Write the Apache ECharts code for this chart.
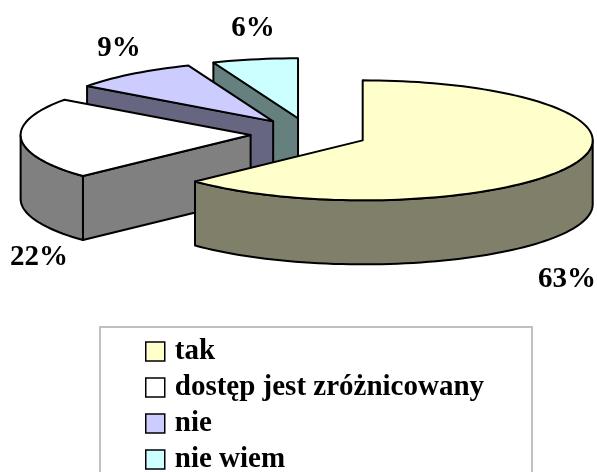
<!DOCTYPE html>
<html>
<head>
<meta charset="utf-8">
<style>
  html, body { margin: 0; padding: 0; background: #fff; overflow: hidden; }
  #chart { width: 597px; height: 472px; }
</style>
<script src="https://cdn.jsdelivr.net/npm/echarts@6/dist/echarts.min.js"></script>
</head>
<body>
<div id="chart"></div>
<script>
var categories = ["tak", "dostęp jest zróżnicowany", "nie", "nie wiem"];
var values = [63, 22, 9, 6];
var topColors = ["#FFFFCC", "#FFFFFF", "#CCCCFF", "#CCFFFF"];
var sideColors = ["#80806A", "#808080", "#666680", "#668080"];

var FONT = '"Liberation Serif", "Times New Roman", serif';

// pie geometry, excel-like tilted view
var cx = 309, cy = 134, rx = 230, ry = 60, depth = 64;
var explodeX = 58.5, explodeY = 16;
// label centres, outside of the pie
var labelPos = [[567, 280], [39, 258], [119, 49], [253, 29]];

var total = values.reduce(function (s, v) { return s + v; }, 0);

function onEllipse(ox, oy, deg, dy) {
  var a = deg * Math.PI / 180;
  return [ox + rx * Math.sin(a), oy - ry * Math.cos(a) + (dy || 0)];
}

function arcPoints(ox, oy, from, to, dy) {
  var pts = [];
  var n = Math.max(2, Math.ceil((to - from) / 2));
  for (var i = 0; i <= n; i++) {
    pts.push(onEllipse(ox, oy, from + (to - from) * i / n, dy));
  }
  return pts;
}

function poly(points, fill) {
  return {
    type: "polygon",
    shape: { points: points },
    style: { fill: fill, stroke: "#000", lineWidth: 2, lineJoin: "round" }
  };
}

function renderSlice(params, api) {
  var idx = params.seriesIndex;
  var before = 0;
  for (var i = 0; i < idx; i++) before += values[i];
  var a0 = before / total * 360;
  var a1 = (before + api.value(0)) / total * 360;
  var mid = (a0 + a1) / 2 * Math.PI / 180;
  var ox = cx + explodeX * Math.sin(mid);
  var oy = cy - explodeY * Math.cos(mid);
  var side = sideColors[idx];
  var kids = [];

  // cut face, only when it looks at the viewer
  if (a0 > 180) {
    var p = onEllipse(ox, oy, a0);
    kids.push(poly([[ox, oy], p, [p[0], p[1] + depth], [ox, oy + depth]], side));
  }
  // outer wall, front half only
  var wFrom = Math.max(a0, 90), wTo = Math.min(a1, 270);
  if (wTo > wFrom) {
    kids.push(poly(
      arcPoints(ox, oy, wFrom, wTo).concat(arcPoints(ox, oy, wFrom, wTo, depth).reverse()),
      side
    ));
  }
  // top
  kids.push(poly([[ox, oy]].concat(arcPoints(ox, oy, a0, a1)), topColors[idx]));
  // percent label
  kids.push({
    type: "text",
    style: {
      text: api.value(0) + "%",
      x: labelPos[idx][0],
      y: labelPos[idx][1],
      fill: "#000",
      fontFamily: FONT,
      fontWeight: "bold",
      fontSize: 29,
      align: "center",
      verticalAlign: "middle"
    }
  });
  return { type: "group", children: kids };
}

var chart = echarts.init(document.getElementById("chart"), null, { renderer: "canvas" });

var series = categories.map(function (name, i) {
  return {
    name: name,
    type: "custom",
    coordinateSystem: "none",
    z: 10 - i,
    silent: true,
    animation: false,
    itemStyle: { color: topColors[i] },
    renderItem: renderSlice,
    data: [[values[i]]]
  };
});

chart.setOption({
  animation: false,
  backgroundColor: "#fff",
  legend: {
    orient: "vertical",
    left: 145,
    top: 337,
    height: 200,
    padding: 0,
    itemWidth: 19,
    itemHeight: 19,
    itemGap: 7,
    icon: "rect",
    selectedMode: false,
    itemStyle: { borderColor: "#000", borderWidth: 1.5 },
    textStyle: {
      color: "#000",
      fontFamily: FONT,
      fontWeight: "bold",
      fontSize: 29,
      padding: [0, 0, 0, 5]
    },
    data: categories
  },
  graphic: [{
    type: "rect",
    z: -1,
    shape: { x: 100, y: 327, width: 432, height: 160 },
    style: { fill: "#fff", stroke: "#C0C0C0", lineWidth: 2 }
  }],
  series: series
});
</script>
</body>
</html>
